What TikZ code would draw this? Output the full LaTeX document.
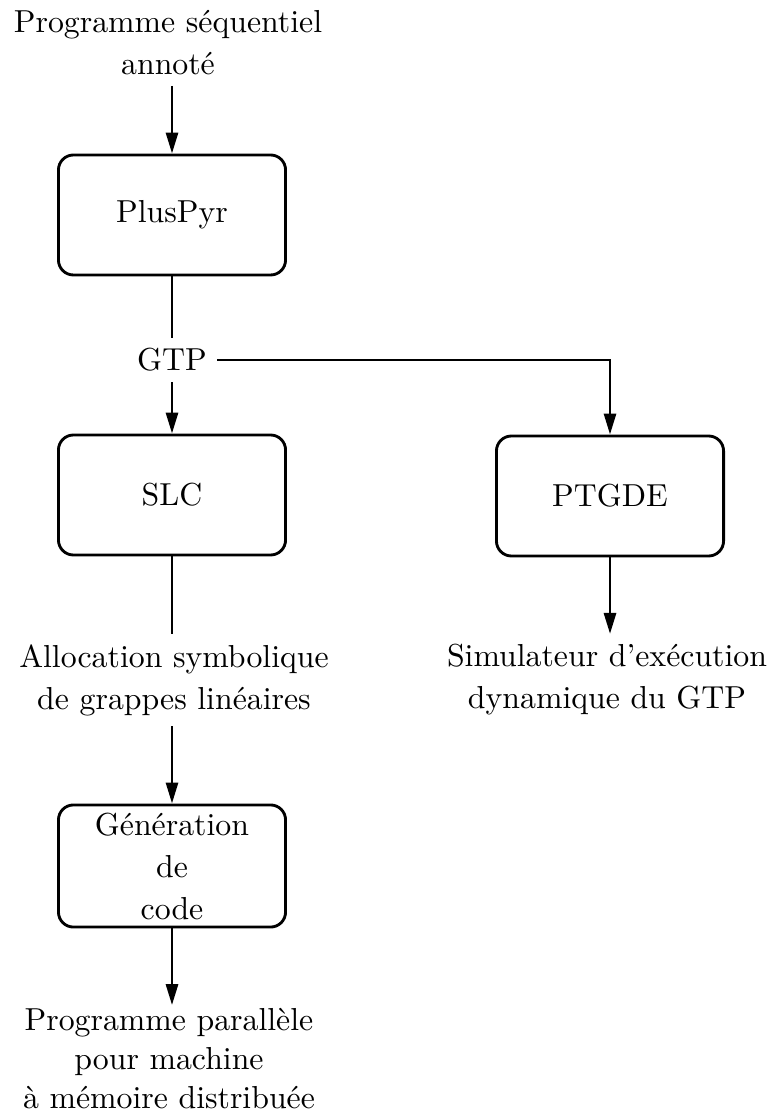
\documentclass[tikz,border=0pt]{standalone}
\usetikzlibrary{arrows.meta}
\begin{document}
\begin{tikzpicture}[x=0.3333pt,y=-0.3333pt,
  every node/.style={font=\fontsize{10.6}{14}\selectfont, align=center},
  stepbox/.style={draw, line width=0.95pt, rounded corners=5pt, minimum width=75.7pt, minimum height=40pt, inner sep=2pt},
  label/.style={inner sep=3.33pt},
  conn/.style={line width=0.95pt},
  arr/.style={conn, -{Triangle[length=7pt,width=4pt]}}]
\path[use as bounding box] (0,0) rectangle (767,1113);
\node[label] (in) at (168,43) {Programme séquentiel\\annoté};
\node[stepbox] (plus) at (172,215) {PlusPyr};
\node[label] (gtp) at (172,360) {GTP};
\node[stepbox] (slc) at (172,495) {SLC};
\node[stepbox] (ptgde) at (610,496) {PTGDE};
\node[label] (alloc) at (174,680) {Allocation symbolique\\de grappes linéaires};
\node[label] (sim) at (607,680) {Simulateur d'exécution\\dynamique du GTP};
\node[stepbox, minimum height=40.7pt] (gen) at (172,866) {Génération\\de\\code};
\node[label, inner ysep=1pt, font=\fontsize{10.6}{13}\selectfont] (out) at (169,1059) {Programme parallèle\\pour machine\\à mémoire distribuée};
\draw[arr] (plus |- in.south) -- (plus);
\draw[conn] (plus) -- (gtp);
\draw[arr] (gtp) -- (slc);
\draw[arr] (gtp.east) -| (ptgde.north);
\draw[conn] (slc) -- (slc |- alloc.north);
\draw[arr] (gen |- alloc.south) -- (gen);
\draw[arr] (gen) -- (gen |- out.north);
\draw[arr] (ptgde) -- (ptgde |- sim.north);
\end{tikzpicture}
\end{document}
